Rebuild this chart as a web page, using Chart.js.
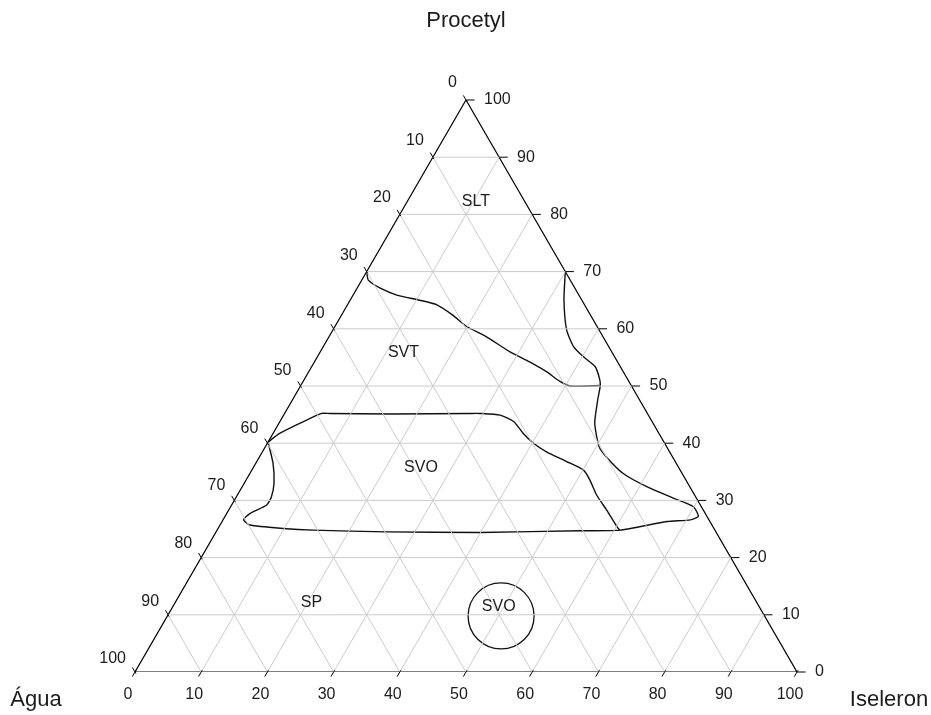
<!DOCTYPE html>
<html>
<head>
<meta charset="utf-8">
<title>Procetyl / Água / Iseleron</title>
<script src="https://cdn.jsdelivr.net/npm/chart.js@4.4.1/dist/chart.umd.min.js"></script>
<style>
  html, body { margin: 0; padding: 0; background: #fff; }
  #wrap { position: relative; width: 931px; height: 715px; }
</style>
</head>
<body>
<div id="wrap"><canvas id="ternary"></canvas></div>
<script>
// Ternary phase diagram — Procetyl (top), Água (left), Iseleron (right).
// Every point is stored as [Iseleron %, Procetyl %]; Água is the remainder.

const AXIS_TICKS  = [0, 10, 20, 30, 40, 50, 60, 70, 80, 90, 100];
const GRID_VALUES = [10, 20, 30, 40, 50, 60, 70, 80, 90];

const TITLE_TOP   = "Procetyl";
const TITLE_LEFT  = "Água";
const TITLE_RIGHT = "Iseleron";

// upper boundary of the SVT region (left edge -> across to the right curve)
const BOUNDARY_SVT = [
  [0, 70], [1.0, 68.5], [3.5, 67.1], [6.6, 65.9], [10.5, 65.0], [13.5, 64.2],
  [16.8, 62.4], [19.9, 60.4], [23.8, 58.6], [28.6, 56.0], [32.5, 54.2],
  [35.9, 52.5], [38.8, 50.8], [40.7, 50.0], [45.2, 50.1],
];

// right curve from the right edge down, then the long bottom line back to the left edge
const BOUNDARY_OUTER = [
  [30, 70], [32.3, 65.0], [35.3, 59.8], [37.8, 56.9], [40.2, 55.1], [42.8, 53.4],
  [44.3, 51.6], [45.2, 50.2], [46.1, 47.6], [47.7, 43.5], [50.4, 39.4],
  [52.4, 37.6], [56.4, 34.7], [61.1, 32.4], [66.1, 30.4], [69.9, 28.9],
  [71.5, 27.2], [70.6, 26.6], [67.2, 26.3], [60.8, 24.8], [54.9, 24.7],
  [39.9, 24.4], [25.8, 24.5], [14.5, 24.8], [9.8, 25.1], [4.5, 25.7],
  [3.1, 26.6], [3.5, 27.7], [5.3, 29.2], [5.3, 30.6], [4.5, 33.0],
  [2.6, 36.5], [0, 40.2],
];

// upper line of the SVO band
const BOUNDARY_SVO = [
  [0, 40.2], [1.0, 41.7], [3.2, 43.5], [5.6, 45.2], [6.8, 45.2], [16.0, 45.1],
  [28.0, 45.2], [29.5, 45.2], [32.7, 44.9], [35.3, 43.8], [37.8, 41.7],
  [40.2, 40.0], [42.9, 38.5], [46.8, 36.8], [50.1, 35.3], [51.9, 33.6],
  [54.3, 30.9], [57.1, 28.3], [60.1, 25.4], [60.8, 24.8],
];

// small isolated SVO island
const ISLAND_CENTER = [50.4, 9.8];

const REGION_NAMES     = ["SLT", "SVT", "SVO", "SP", "SVO"];
const REGION_ISELERON  = [10.4, 12.6, 25.3, 20.6, 49.2];
const REGION_PROCETYL  = [82.2, 55.9, 35.8, 12.1, 11.5];

// ---------------------------------------------------------------------------
const SIN60 = Math.sqrt(3) / 2;
const FONT  = "'Liberation Sans', Arial, Helvetica, sans-serif";
const INK   = "#1c1c1c";

function toXY(i, p) {
  return { x: i + p / 2, y: p * SIN60 };
}

function lineSet(points, color, width, tension) {
  return {
    data: points.map(([i, p]) => toXY(i, p)),
    showLine: true,
    borderColor: color,
    borderWidth: width,
    pointRadius: 0,
    tension: tension || 0,
    fill: false,
  };
}

const datasets = [];

// grid lines, one for each of the three components
GRID_VALUES.forEach(v => {
  datasets.push(lineSet([[0, v], [100 - v, v]], "#cccccc", 1));
  datasets.push(lineSet([[v, 0], [v, 100 - v]], "#cccccc", 1));
  datasets.push(lineSet([[100 - v, 0], [0, 100 - v]], "#cccccc", 1));
});

// triangle outline
datasets.push(lineSet([[0, 0], [100, 0], [0, 100], [0, 0]], "#000", 1.2));

// phase boundaries
datasets.push(lineSet(BOUNDARY_SVT, "#111", 1.4, 0.2));
datasets.push(lineSet(BOUNDARY_OUTER, "#111", 1.4, 0.2));
datasets.push(lineSet(BOUNDARY_SVO, "#111", 1.4, 0.2));

datasets.push({
  data: [toXY(ISLAND_CENTER[0], ISLAND_CENTER[1])],
  showLine: false,
  pointRadius: 33,
  pointStyle: "circle",
  pointBackgroundColor: "rgba(0,0,0,0)",
  pointBorderColor: "#111",
  pointBorderWidth: 1.3,
});

// ---------------------------------------------------------------------------
// Ticks, tick labels, axis titles and region names
// ---------------------------------------------------------------------------
const ternaryText = {
  id: "ternaryText",
  afterDatasetsDraw(chart) {
    const { ctx } = chart;
    const sx = chart.scales.x, sy = chart.scales.y;
    const px = (i, p) => {
      const q = toXY(i, p);
      return [sx.getPixelForValue(q.x), sy.getPixelForValue(q.y)];
    };
    const seg = (a, b) => {
      ctx.beginPath();
      ctx.moveTo(a[0], a[1]);
      ctx.lineTo(b[0], b[1]);
      ctx.stroke();
    };

    ctx.save();
    ctx.strokeStyle = "#000";
    ctx.lineWidth = 1;
    ctx.fillStyle = INK;
    ctx.font = `16px ${FONT}`;

    AXIS_TICKS.forEach(v => {
      // left axis: Água
      const l0 = px(0, 100 - v), l1 = px(-0.8, 100 - v + 0.8), lIn = px(0.3, 100 - v - 0.3);
      seg(lIn, l1);
      ctx.textAlign = "right";
      ctx.textBaseline = "middle";
      ctx.fillText(String(v), l0[0] - 9, l0[1] - 17.5 + 0.045 * v);

      // bottom axis: Iseleron
      const b0 = px(v, 0), b1 = px(v, -0.8), bIn = px(v, 0.3);
      seg(bIn, b1);
      ctx.textAlign = "center";
      ctx.fillText(String(v), b0[0] - 7, 695);

      // right axis: Procetyl
      const r0 = px(100 - v, v), r1 = px(100 - v + 1.3, v);
      seg(r0, r1);
      ctx.textAlign = "left";
      ctx.fillText(String(v), r0[0] + 18, r0[1]);
    });

    // region names
    ctx.textAlign = "center";
    ctx.textBaseline = "middle";
    REGION_NAMES.forEach((name, k) => {
      const p = px(REGION_ISELERON[k], REGION_PROCETYL[k]);
      ctx.fillText(name, p[0], p[1]);
    });

    // axis titles
    ctx.font = `22px ${FONT}`;
    const top = px(0, 100), left = px(0, 0), right = px(100, 0);
    ctx.fillText(TITLE_TOP, top[0], 21);
    ctx.fillText(TITLE_LEFT, left[0] - 99, 700);
    ctx.fillText(TITLE_RIGHT, right[0] + 92, 700);
    ctx.restore();
  },
};

new Chart(document.getElementById("ternary"), {
  type: "scatter",
  data: { datasets },
  options: {
    responsive: true,
    maintainAspectRatio: false,
    animation: false,
    events: [],
    layout: { padding: { left: 135, right: 134, top: 100, bottom: 43 } },
    plugins: {
      legend: { display: false },
      tooltip: { enabled: false },
    },
    scales: {
      x: { type: "linear", min: 0, max: 100, display: false },
      y: { type: "linear", min: 0, max: 100 * SIN60, display: false },
    },
  },
  plugins: [ternaryText],
});
</script>
</body>
</html>
